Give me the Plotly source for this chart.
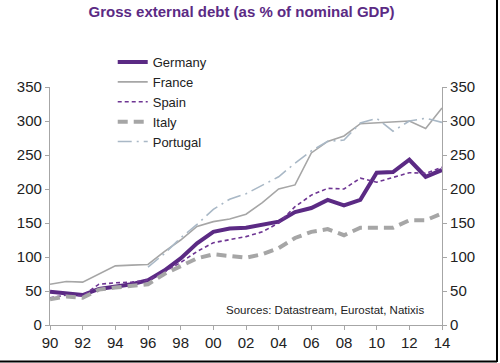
import plotly.graph_objects as go

years = list(range(1990, 2015))
tick_years = list(range(1990, 2015, 2))
tick_labels = ["90", "92", "94", "96", "98", "00", "02", "04", "06", "08", "10", "12", "14"]
y_ticks = [0, 50, 100, 150, 200, 250, 300, 350]

germany = [49, 47, 44, 53, 57, 60, 66, 80, 98, 120, 137, 142, 143, 147, 152, 166, 172, 184, 176, 184, 224, 225, 243, 218, 228]
france = [60, 64, 63, 75, 87, 88, 89, 108, 125, 145, 152, 156, 163, 180, 200, 206, 253, 270, 278, 296, 297, 298, 300, 289, 319]
spain = [40, 44, 43, 60, 62, 63, 66, 78, 92, 108, 121, 126, 130, 137, 150, 174, 191, 201, 200, 216, 210, 217, 224, 223, 232]
italy = [38, 42, 40, 52, 55, 57, 60, 75, 86, 98, 104, 101, 99, 104, 113, 128, 137, 141, 132, 143, 143, 143, 154, 154, 164]
portugal = [None, None, None, None, None, None, 85, 105, 128, 148, 170, 185, 193, 205, 218, 238, 256, 270, 272, 297, 304, 285, 300, 304, 298]

FONT = "Arial, Liberation Sans, sans-serif"
AXIS = "#a6a6a6"

fig = go.Figure()
fig.add_trace(go.Scatter(x=years, y=germany, name="Germany", mode="lines",
                         line=dict(color="#5b2a84", width=4)))
fig.add_trace(go.Scatter(x=years, y=france, name="France", mode="lines",
                         line=dict(color="#a6a6a6", width=1.6)))
fig.add_trace(go.Scatter(x=years, y=spain, name="Spain", mode="lines",
                         line=dict(color="#6e3593", width=1.6, dash="4px,3px")))
fig.add_trace(go.Scatter(x=years, y=italy, name="Italy", mode="lines",
                         line=dict(color="#a6a6a6", width=4, dash="10px,6px")))
fig.add_trace(go.Scatter(x=years, y=portugal, name="Portugal", mode="lines",
                         line=dict(color="#a9b8c6", width=1.6, dash="14px,5px,2px,5px")))
# invisible trace to carry the right-hand axis
fig.add_trace(go.Scatter(x=years, y=germany, yaxis="y2", mode="lines", showlegend=False,
                         hoverinfo="skip", line=dict(color="rgba(0,0,0,0)", width=0)))

axis_common = dict(range=[0, 350], tickvals=y_ticks, showgrid=False, zeroline=False,
                   showline=True, linecolor=AXIS, linewidth=1.2, ticks="outside",
                   ticklen=4, tickcolor=AXIS, tickfont=dict(family=FONT, size=15, color="#222"))

fig.update_layout(
    width=500, height=363,
    margin=dict(l=50, r=58, t=87, b=38),
    paper_bgcolor="white", plot_bgcolor="white",
    title=dict(text="<b>Gross external debt (as % of nominal GDP)</b>",
               x=0.483, xanchor="center", y=0.967, yanchor="middle",
               font=dict(family=FONT, size=15, color="#5b2a84")),
    xaxis=dict(range=[1990, 2014], tickvals=tick_years, ticktext=tick_labels,
               showgrid=False, zeroline=False, showline=True, linecolor=AXIS, linewidth=1.2,
               ticks="outside", ticklen=4, tickcolor=AXIS,
               tickfont=dict(family=FONT, size=15, color="#222")),
    yaxis=dict(side="left", **axis_common),
    yaxis2=dict(side="right", overlaying="y", **axis_common),
    legend=dict(x=0.16, y=1.168, xanchor="left", yanchor="top", tracegroupgap=0,
                bgcolor="rgba(0,0,0,0)", font=dict(family=FONT, size=13, color="#222")),
    showlegend=True,
    annotations=[dict(text="Sources: Datastream, Eurostat, Natixis", xref="paper", yref="paper",
                      x=0.959, y=0.063, xanchor="right", yanchor="middle", showarrow=False,
                      font=dict(family=FONT, size=11.5, color="#222"))],
    shapes=[
        dict(type="line", xref="paper", yref="paper", x0=1.1403, x1=1.1403, y0=-0.155, y1=1.366,
             line=dict(color="black", width=2)),
        dict(type="line", xref="paper", yref="paper", x0=-0.128, x1=1.1403, y0=-0.1534, y1=-0.1534,
             line=dict(color="black", width=2)),
    ],
)

fig.write_html("out.html", config={"displayModeBar": False},
               post_script="document.body.style.margin='0';")
